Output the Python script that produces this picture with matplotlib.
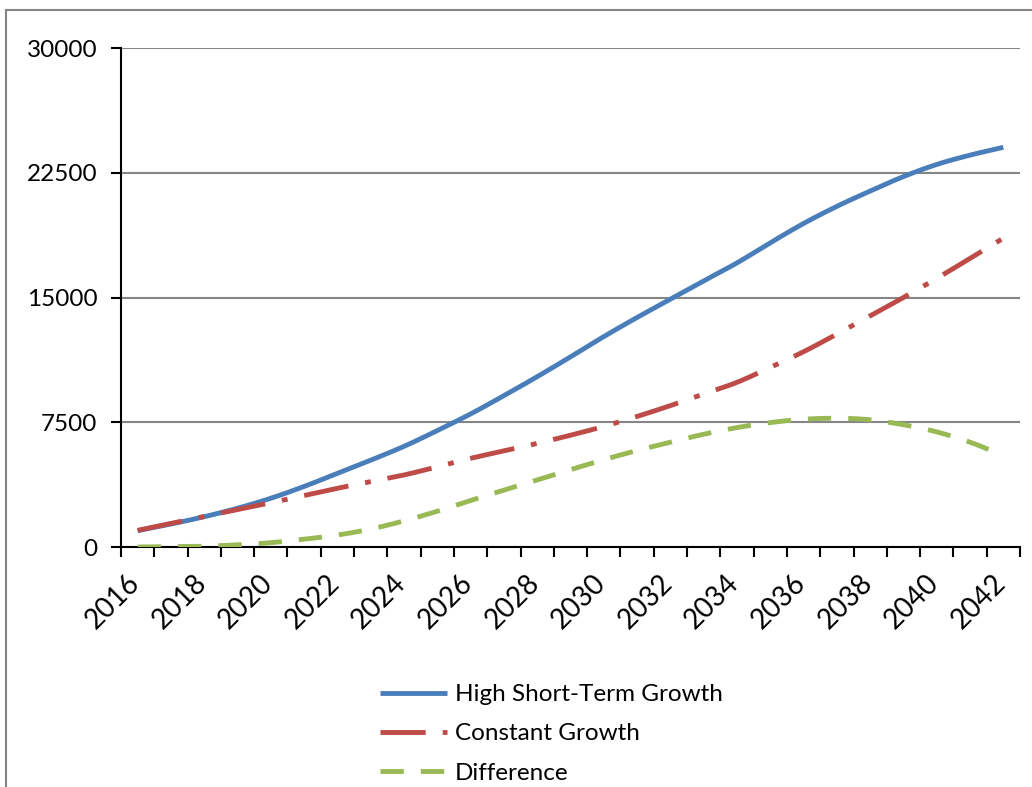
import matplotlib
matplotlib.use("Agg")
import numpy as np
import matplotlib.pyplot as plt
from matplotlib.lines import Line2D
from matplotlib.transforms import ScaledTranslation

plt.rcParams['font.family'] = ['Lato', 'DejaVu Sans']

years = list(range(2016, 2043))
high_growth = [980, 1380, 1820, 2330, 2930, 3640, 4430, 5220, 6050, 7000,
               8000, 9100, 10240, 11430, 12650, 13800, 14900, 16000, 17080,
               18290, 19450, 20480, 21400, 22270, 23000, 23560, 24030]
constant_growth = [1000, 1420, 1840, 2250, 2660, 3100, 3530, 3930, 4330, 4820,
                   5330, 5780, 6230, 6720, 7250, 7850, 8500, 9200, 9900,
                   10800, 11740, 12800, 13900, 15000, 16150, 17350, 18570]
difference = [0, 20, 50, 130, 260, 470, 720, 1080, 1570, 2150,
              2800, 3420, 4030, 4650, 5250, 5800, 6300, 6780, 7180,
              7480, 7680, 7740, 7650, 7350, 6920, 6300, 5500]
y_ticks = [0, 7500, 15000, 22500, 30000]
series_names = ["High Short-Term Growth", "Constant Growth", "Difference"]


def smoothed(xs, ys, steps=16):
    """Catmull-Rom curve through the points, like a smoothed line chart."""
    xs = np.asarray(xs, float)
    ys = np.asarray(ys, float)
    px = np.concatenate([[2 * xs[0] - xs[1]], xs, [2 * xs[-1] - xs[-2]]])
    py = np.concatenate([[2 * ys[0] - ys[1]], ys, [2 * ys[-1] - ys[-2]]])
    t = np.linspace(0, 1, steps, endpoint=False)
    out_x, out_y = [], []
    for i in range(1, len(px) - 2):
        for p, o in ((px, out_x), (py, out_y)):
            p0, p1, p2, p3 = p[i - 1], p[i], p[i + 1], p[i + 2]
            o.extend(0.5 * (2 * p1 + (-p0 + p2) * t
                            + (2 * p0 - 5 * p1 + 4 * p2 - p3) * t ** 2
                            + (-p0 + 3 * p1 - 3 * p2 + p3) * t ** 3))
    out_x.append(xs[-1])
    out_y.append(ys[-1])
    return np.array(out_x), np.array(out_y)


W, H = 1032, 787
fig = plt.figure(figsize=(W / 100, H / 100), dpi=100)
ax = fig.add_axes([121 / W, 1 - 547 / H, (1020 - 121) / W, (547 - 48) / H])

x = list(range(len(years)))
lw = 3.5
ax.plot(*smoothed(x, high_growth), color="#4A7EBB", lw=lw,
        solid_capstyle="butt", label=series_names[0], zorder=3)
ax.plot(*smoothed(x, constant_growth), color="#BE4B48", lw=lw,
        dash_capstyle="butt", dashes=(9.3, 3.5, 1.2, 3.5),
        label=series_names[1], zorder=3)
ax.plot(*smoothed(x, difference), color="#98B954", lw=lw,
        dash_capstyle="butt", dashes=(4.8, 3.5),
        label=series_names[2], zorder=3)

ax.set_xlim(-0.5, len(years) - 0.5)
ax.set_ylim(0, 30000)

# y axis
ax.set_yticks(y_ticks)
ax.set_yticklabels([str(v) for v in y_ticks])
ax.yaxis.grid(True, color="#868686", lw=1.5)
ax.set_axisbelow(True)
ax.tick_params(axis="y", which="major", direction="out", length=7, width=1.5,
               labelsize=17.5, pad=10, colors="black")

# x axis: tick marks on category boundaries, labels every other year
ax.set_xticks([i - 0.5 for i in range(len(years) + 1)])
ax.set_xticklabels([])
ax.tick_params(axis="x", which="major", direction="out", length=7, width=1.5)
ax.set_xticks(x[::2], minor=True)
ax.set_xticklabels([str(y) for y in years[::2]], minor=True, rotation=45,
                   ha="right", va="center", rotation_mode="anchor", fontsize=20)
ax.tick_params(axis="x", which="minor", length=0, pad=23)
shift = ScaledTranslation(-2 / 100, 0, fig.dpi_scale_trans)
for lab in ax.get_xticklabels(minor=True):
    lab.set_transform(lab.get_transform() + shift)

for side in ("top", "right"):
    ax.spines[side].set_visible(False)
for side in ("left", "bottom"):
    ax.spines[side].set_linewidth(1.5)
    ax.spines[side].set_color("black")

# outer chart border
fig.add_artist(Line2D([6 / W, 6 / W], [0, 1 - 10 / H], transform=fig.transFigure,
                      color="#868686", lw=1.5))
fig.add_artist(Line2D([6 / W, 1.0], [1 - 10 / H, 1 - 10 / H], transform=fig.transFigure,
                      color="#868686", lw=1.5))

leg = fig.legend(loc="upper left", bbox_to_anchor=(380 / W, 1 - 684 / H),
                 frameon=False, fontsize=17.5, handlelength=2.75,
                 handletextpad=0.33, labelspacing=0.75, borderpad=0,
                 borderaxespad=0)

fig.savefig("out.png", dpi=100, facecolor="white")
